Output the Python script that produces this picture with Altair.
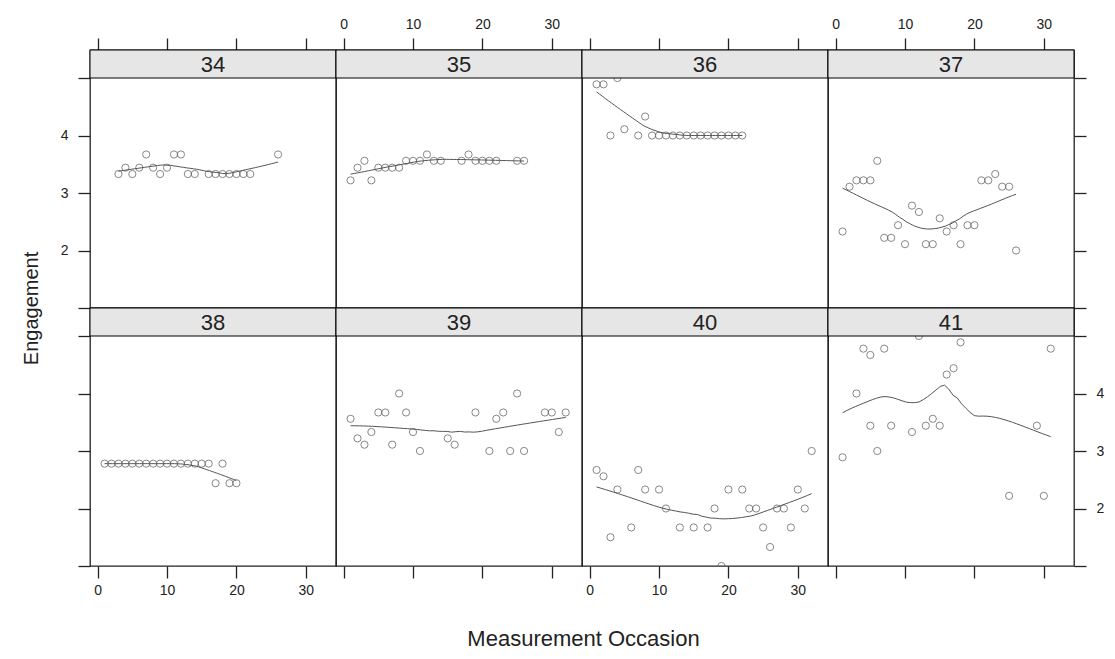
import altair as alt
import numpy as np
import pandas as pd

# ---- data (one list per panel) ----
subjects = ["34", "35", "36", "37", "38", "39", "40", "41"]

occ_34 = [3, 4, 5, 6, 7, 8, 9, 10, 11, 12, 13, 14, 16, 17, 18, 19, 20, 21, 22, 26]
eng_34 = [3.33, 3.44, 3.33, 3.44, 3.67, 3.44, 3.33, 3.44, 3.67, 3.67, 3.33, 3.33,
          3.33, 3.33, 3.33, 3.33, 3.33, 3.33, 3.33, 3.67]

occ_35 = [1, 2, 3, 4, 5, 6, 7, 8, 9, 10, 11, 12, 13, 14, 17, 18, 19, 20, 21, 22, 25, 26]
eng_35 = [3.22, 3.44, 3.56, 3.22, 3.44, 3.44, 3.44, 3.44, 3.56, 3.56, 3.56, 3.67,
          3.56, 3.56, 3.56, 3.67, 3.56, 3.56, 3.56, 3.56, 3.56, 3.56]

occ_36 = [1, 2, 3, 4, 5, 7, 8, 9, 10, 11, 12, 13, 14, 15, 16, 17, 18, 19, 20, 21, 22]
eng_36 = [4.89, 4.89, 4.0, 5.0, 4.11, 4.0, 4.33, 4.0, 4.0, 4.0, 4.0, 4.0, 4.0,
          4.0, 4.0, 4.0, 4.0, 4.0, 4.0, 4.0, 4.0]

occ_37 = [1, 2, 3, 4, 5, 6, 7, 8, 9, 10, 11, 12, 13, 14, 15, 16, 17, 18, 19, 20,
          21, 22, 23, 24, 25, 26]
eng_37 = [2.33, 3.11, 3.22, 3.22, 3.22, 3.56, 2.22, 2.22, 2.44, 2.11, 2.78, 2.67,
          2.11, 2.11, 2.56, 2.33, 2.44, 2.11, 2.44, 2.44, 3.22, 3.22, 3.33, 3.11,
          3.11, 2.0]

occ_38 = [1, 2, 3, 4, 5, 6, 7, 8, 9, 10, 11, 12, 13, 14, 15, 16, 17, 18, 19, 20]
eng_38 = [2.78, 2.78, 2.78, 2.78, 2.78, 2.78, 2.78, 2.78, 2.78, 2.78, 2.78, 2.78,
          2.78, 2.78, 2.78, 2.78, 2.44, 2.78, 2.44, 2.44]

occ_39 = [1, 2, 3, 4, 5, 6, 7, 8, 9, 10, 11, 15, 16, 19, 21, 22, 23, 24, 25, 26,
          29, 30, 31, 32]
eng_39 = [3.56, 3.22, 3.11, 3.33, 3.67, 3.67, 3.11, 4.0, 3.67, 3.33, 3.0, 3.22,
          3.11, 3.67, 3.0, 3.56, 3.67, 3.0, 4.0, 3.0, 3.67, 3.67, 3.33, 3.67]

occ_40 = [1, 2, 3, 4, 6, 7, 8, 10, 11, 13, 15, 17, 18, 19, 20, 22, 23, 24, 25, 26,
          27, 28, 29, 30, 31, 32]
eng_40 = [2.67, 2.56, 1.5, 2.33, 1.67, 2.67, 2.33, 2.33, 2.0, 1.67, 1.67, 1.67,
          2.0, 1.0, 2.33, 2.33, 2.0, 2.0, 1.67, 1.33, 2.0, 2.0, 1.67, 2.33, 2.0, 3.0]

occ_41 = [1, 3, 4, 5, 5, 6, 7, 8, 11, 12, 13, 14, 15, 16, 17, 18, 25, 29, 30, 31]
eng_41 = [2.89, 4.0, 4.78, 4.67, 3.44, 3.0, 4.78, 3.44, 3.33, 5.0, 3.44, 3.56,
          3.44, 4.33, 4.44, 4.89, 2.22, 3.44, 2.22, 4.78]

x_ticks = [0, 10, 20, 30]
y_ticks = [1, 2, 3, 4, 5]

occ_lists = [occ_34, occ_35, occ_36, occ_37, occ_38, occ_39, occ_40, occ_41]
eng_lists = [eng_34, eng_35, eng_36, eng_37, eng_38, eng_39, eng_40, eng_41]


# local-linear loess smoother (span 2/3, tricube weights), as in panel.loess
def loess_smooth(xs, ys, span=2.0 / 3.0, evaluation=50):
    x = np.asarray(xs, float)
    y = np.asarray(ys, float)
    n = len(x)
    q = max(2, int(np.floor(n * span)))
    grid = np.linspace(x.min(), x.max(), evaluation)
    fit = []
    for x0 in grid:
        d = np.abs(x - x0)
        h = np.sort(d)[q - 1] * 1.0000001
        w = np.clip(1 - (d / h) ** 3, 0, None) ** 3
        X = np.column_stack([np.ones(n), x - x0])
        A = X.T @ (X * w[:, None])
        b = X.T @ (w * y)
        beta = np.linalg.lstsq(A, b, rcond=None)[0]
        fit.append(float(beta[0]))
    return grid, fit


records = []
smooth_records = []
for s, xs_, ys_ in zip(subjects, occ_lists, eng_lists):
    for xv, yv in zip(xs_, ys_):
        records.append({"subject": s, "occasion": xv, "engagement": yv})
    gx, gy = loess_smooth(xs_, ys_)
    for xv, yv in zip(gx, gy):
        smooth_records.append({"subject": s, "occasion": float(xv), "engagement": yv})
df = pd.DataFrame(records)
df_smooth = pd.DataFrame(smooth_records)

# ---- layout ----
W, STRIP, PH = 246, 28, 230
H = STRIP + PH
PPU = PH / 4.0
YMAX = 5 + STRIP / PPU
XDOM = [-1.1, 34.35]
FONT = "Liberation Sans"
GRAY = "#555555"


def make_panel(i, s):
    r, c = divmod(i, 4)
    xscale = alt.Scale(domain=XDOM, nice=False, zero=False)
    yscale = alt.Scale(domain=[1, YMAX], nice=False, zero=False)

    show_x = (c % 2 == 1) if r == 0 else (c % 2 == 0)
    xa = dict(orient="top" if r == 0 else "bottom", values=x_ticks, labels=show_x,
              tickSize=12, labelPadding=7 if r == 0 else 5, domain=False,
              grid=False, title=None)
    if r == 1 and c == 0:
        xa.update(title="Measurement Occasion", titleX=493, titleY=72,
                  titleAlign="center", titleBaseline="middle", titleFontSize=22)
    X = alt.X("occasion:Q", scale=xscale, axis=alt.Axis(**xa))

    if c == 0 or c == 3:
        show_y = (r == 0) if c == 0 else (r == 1)
        ya = dict(orient="left" if c == 0 else "right", values=y_ticks,
                  labels=show_y, tickSize=12, labelPadding=10, domain=False,
                  grid=False, title=None,
                  labelExpr="datum.value == 1 || datum.value == 5 ? '' : datum.label")
        if r == 0 and c == 0:
            ya.update(title="Engagement", titleX=-59, titleY=H, titleAngle=270,
                      titleAlign="center", titleBaseline="middle", titleFontSize=20)
        Y = alt.Y("engagement:Q", scale=yscale, axis=alt.Axis(**ya))
    else:
        Y = alt.Y("engagement:Q", scale=yscale, axis=None)

    pts = alt.Chart(df).transform_filter(alt.datum.subject == s).mark_point(
        shape="circle", filled=False, size=52, color=GRAY, strokeWidth=1,
        clip=True).encode(x=X, y=Y)
    line = alt.Chart(df_smooth).transform_filter(alt.datum.subject == s).mark_line(
        color=GRAY, strokeWidth=1, clip=True).encode(x=X, y=Y)

    sd = pd.DataFrame({"subject": [s]})
    strip_rect = alt.Chart(sd).mark_rect(fill="#e6e6e6", stroke="black",
                                         strokeWidth=1).encode(
        x=alt.value(0), x2=alt.value(W), y=alt.value(0), y2=alt.value(STRIP))
    strip_text = alt.Chart(sd).mark_text(font=FONT, fontSize=22, color="#222222",
                                         baseline="middle", align="center").encode(
        text="subject:N", x=alt.value(W / 2), y=alt.value(STRIP / 2 + 1))
    return alt.layer(pts, line, strip_rect, strip_text).properties(width=W, height=H)


panels = [make_panel(i, s) for i, s in enumerate(subjects)]

chart = alt.concat(*panels, columns=4, spacing=0, bounds="flush").properties(
    padding={"left": 12, "top": 8, "right": 2, "bottom": 2}
).configure_view(
    stroke="#222222", strokeWidth=1.3
).configure_axis(
    labelFont=FONT, labelFontSize=14, labelColor="#222222",
    tickColor="#222222", tickWidth=1.3,
    titleFont=FONT, titleFontWeight="normal", titleColor="#222222"
)

chart.save("out.html", embed_options={"renderer": "svg", "actions": False})
